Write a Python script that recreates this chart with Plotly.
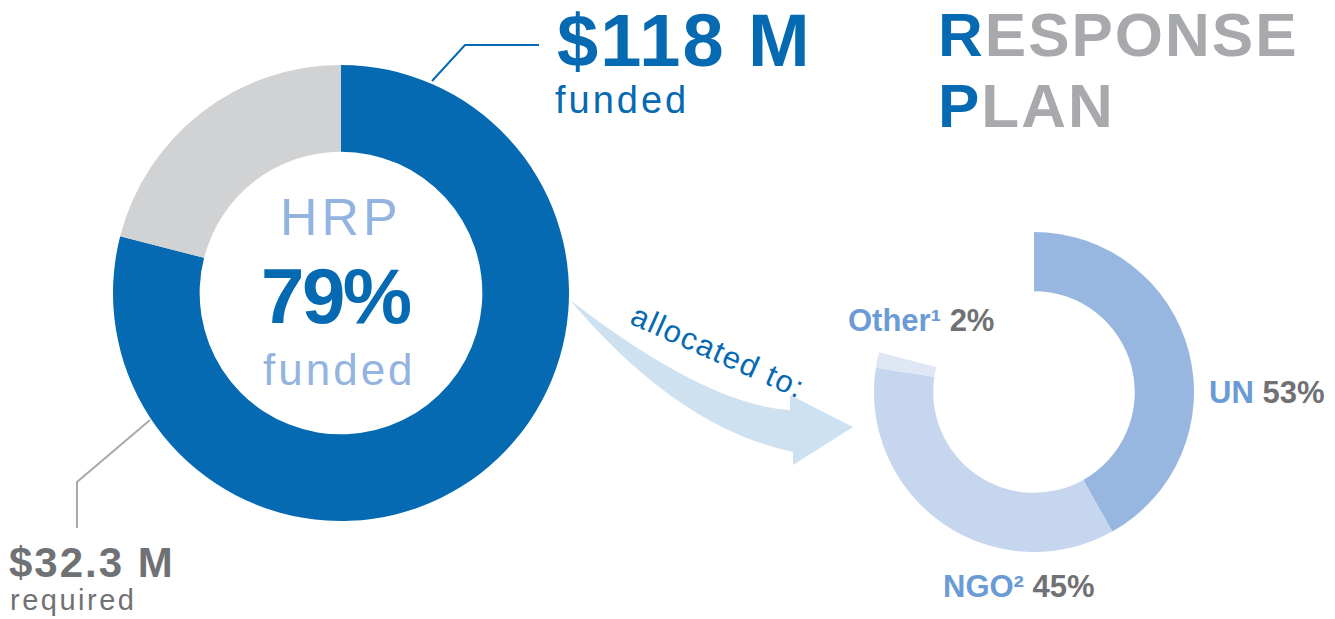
import plotly.graph_objects as go

W, H = 1335, 619

# Funding figures, US$ millions
funding_labels = ["funded", "required"]
funding_values = [118, 32.3]

# Share of the plan that is funded (%)
hrp_funded_pct = 79

# Share of the funded amount allocated to each recipient type (%)
alloc_labels = ["UN", "NGO", "Other"]
alloc_shares = [53, 45, 2]
alloc_notes = ["", "²", "¹"]

BLUE = "#066AB2"
GREY_SLICE = "#D1D2D4"
LIGHT_BLUE_TXT = "#93B4E0"
LABEL_BLUE = "#6A9BD5"
DARK_GREY = "#707174"
TITLE_GREY = "#A7A9AC"
ALLOC_COLORS = ["#97B7E0", "#C6D6EE", "#DFE7F5"]
ARROW_FILL = "#CDE1F1"
FONT = "Liberation Sans, Arial, sans-serif"


def px(x):
    return x / W


def py(y):
    return 1 - y / H


def domain(cx, cy, r):
    return dict(x=[px(cx - r), px(cx + r)], y=[py(cy + r), py(cy - r)])


fig = go.Figure()

# Overall funding donut
fig.add_trace(go.Pie(
    labels=["funded", "unfunded"],
    values=[hrp_funded_pct, 100 - hrp_funded_pct],
    hole=0.62,
    sort=False,
    direction="clockwise",
    rotation=0,
    marker=dict(colors=[BLUE, GREY_SLICE], line=dict(width=0)),
    textinfo="none",
    hoverinfo="none",
    showlegend=False,
    domain=domain(341, 293, 228),
))

# Allocation donut: the arc covers only the funded share of the circle
gap = sum(alloc_shares) * (100 - hrp_funded_pct) / hrp_funded_pct
fig.add_trace(go.Pie(
    labels=alloc_labels + [""],
    values=alloc_shares + [gap],
    hole=0.63,
    sort=False,
    direction="clockwise",
    rotation=0,
    marker=dict(colors=ALLOC_COLORS + ["rgba(0,0,0,0)"], line=dict(width=0)),
    textinfo="none",
    hoverinfo="none",
    showlegend=False,
    domain=domain(1034, 392, 160),
))


def P(x, y):
    return f"{px(x):.5f},{py(y):.5f}"


def path(points):
    return "M " + " L ".join(P(x, y) for x, y in points)


shapes = []
# Leader lines
shapes.append(dict(type="path", xref="paper", yref="paper",
                   path=path([(432, 81), (465, 45), (539, 45)]),
                   line=dict(color=BLUE, width=2)))
shapes.append(dict(type="path", xref="paper", yref="paper",
                   path=path([(150, 420), (77, 482), (77, 528)]),
                   line=dict(color=TITLE_GREY, width=2)))

# Curved arrow between the donuts
arrow = (f"M {P(570, 300)} Q {P(706, 405)} {P(790, 410)} "
         f"L {P(790, 395)} L {P(853, 427)} L {P(793, 465)} L {P(793, 452)} "
         f"Q {P(678, 428)} {P(570, 300)} Z")
shapes.append(dict(type="path", xref="paper", yref="paper", path=arrow,
                   fillcolor=ARROW_FILL, line=dict(width=0), layer="below"))

annotations = []


def text(t, x, y, size, color, bold=False, xanchor="left", spacing=0, angle=0):
    if spacing:
        t = f'<span style="letter-spacing:{spacing}px">{t}</span>'
    annotations.append(dict(
        text=t, x=px(x), y=py(y), xref="paper", yref="paper",
        xanchor=xanchor, yanchor="middle", showarrow=False,
        borderpad=0, borderwidth=0, textangle=angle,
        font=dict(family=FONT, size=size, color=color,
                  weight="bold" if bold else "normal"),
    ))


# Centre of the main donut
text("HRP", 341, 217, 52, LIGHT_BLUE_TXT, xanchor="center", spacing=4)
text(f"{hrp_funded_pct}%", 336, 296, 78, BLUE, bold=True, xanchor="center",
     spacing=-2.5)
text("funded", 339, 369, 44, LIGHT_BLUE_TXT, xanchor="center", spacing=3)

# Funded amount
text(f"${funding_values[0]:g} M", 557, 40, 74, BLUE, bold=True, spacing=2)
text(funding_labels[0], 555, 100, 38, BLUE, spacing=3)

# Required amount
text(f"${funding_values[1]:g} M", 9, 562, 42, DARK_GREY, bold=True, spacing=2)
text(funding_labels[1], 10, 600, 29, DARK_GREY, spacing=2.5)

# Title
text(f'<span style="color:{BLUE}">R</span>ESPONSE', 938, 34.5, 62, TITLE_GREY,
     bold=True, spacing=2)
text(f'<span style="color:{BLUE}">P</span>LAN', 938, 105, 62, TITLE_GREY,
     bold=True, spacing=2)

# Arrow caption
text("allocated to:", 718, 351, 31, BLUE, xanchor="center", spacing=1.5,
     angle=24)

# Allocation labels
label_pos = {"UN": (1209, 392), "NGO": (943, 586), "Other": (848, 320)}
for name, share, note in zip(alloc_labels, alloc_shares, alloc_notes):
    t = (f'<span style="color:{LABEL_BLUE}">{name}{note}</span> '
         f'<span style="color:{DARK_GREY}">{share}%</span>')
    x, y = label_pos[name]
    text(t, x, y, 31, DARK_GREY, bold=True)

fig.update_layout(
    width=W, height=H,
    margin=dict(l=0, r=0, t=0, b=0),
    paper_bgcolor="white", plot_bgcolor="white",
    shapes=shapes, annotations=annotations,
    showlegend=False,
)

fig.write_html("out.html")
